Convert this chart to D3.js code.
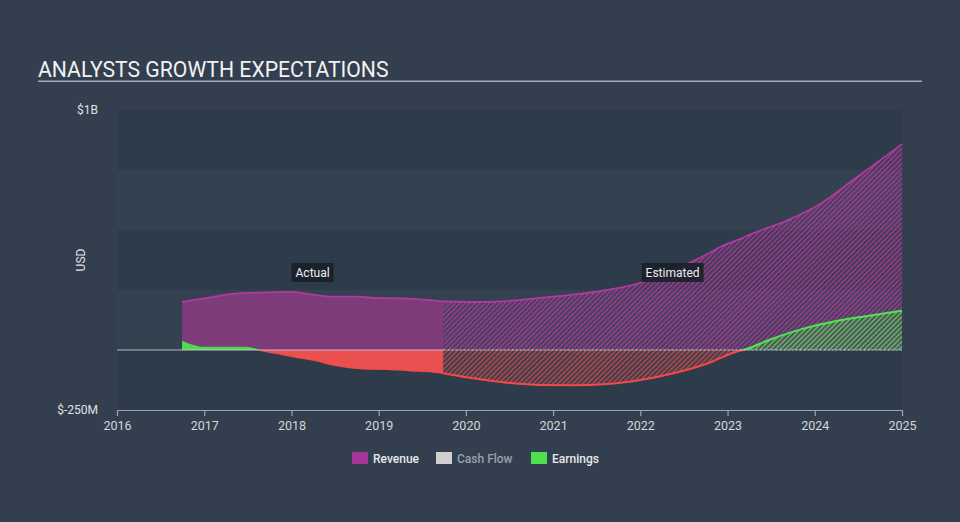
<!DOCTYPE html>
<html>
<head>
<meta charset="utf-8">
<script src="https://cdn.jsdelivr.net/npm/d3@7"></script>
<style>
  html, body { margin: 0; padding: 0; background: #333f4f; }
  svg { display: block; font-family: Roboto, "Open Sans", sans-serif; }
</style>
</head>
<body>
<svg id="chart" width="960" height="522"></svg>
<script>
// ---- data (values in $M, time in decimal years) ----
const revenueYears  = [2016.745, 2017.0, 2017.3, 2017.72, 2017.98, 2018.21, 2018.44, 2018.75, 2018.98, 2019.28, 2019.59, 2019.74,
                       2020.08, 2020.47, 2020.85, 2021.23, 2021.62, 2022.0, 2022.38, 2022.77, 2022.92, 2023.14, 2023.29, 2023.68, 2024.06, 2024.44, 2024.83, 2025.0];
const revenueValues = [200, 215, 233, 240, 242, 233, 222, 222, 217, 215, 208, 202,
                       200, 204, 217, 231, 250, 280, 333, 400, 430, 462, 486, 539, 608, 708, 812, 858];
const earningsYears  = [2016.745, 2016.91, 2016.98, 2017.48, 2017.67, 2017.87, 2018.06, 2018.25, 2018.52, 2018.82, 2019.10, 2019.36, 2019.67, 2019.74,
                        2020.08, 2020.47, 2020.85, 2021.23, 2021.62, 2022.0, 2022.38, 2022.77, 2023.14, 2023.18, 2023.49, 2023.87, 2024.26, 2024.64, 2025.0];
const earningsValues = [39, 18, 14, 14, -3, -17, -30, -42, -65, -78, -80, -86, -93, -97,
                        -118, -136, -146, -147, -142, -125, -97, -56, -3, 0, 44, 89, 122, 144, 164];
const splitYear = 2019.74;             // actual / estimated boundary
const xTicks = [2016, 2017, 2018, 2019, 2020, 2021, 2022, 2023, 2024, 2025];
const yTickValues = [1000, -250];
const yTickLabels = ["$1B", "$-250M"];
const bandEdges = [-250, 0, 250, 500, 750, 1000];
const legendNames = ["Revenue", "Cash Flow", "Earnings"];
const legendColors = ["#a8369a", "#cfcfcf", "#4fe04f"];

// ---- layout ----
const svg = d3.select("#chart");
const M = { left: 117, right: 902, top: 110, bottom: 410 };
const x = d3.scaleLinear().domain([2016, 2025]).range([M.left, M.right]);
const y = d3.scaleLinear().domain([-250, 1000]).range([M.bottom, M.top]);

const C = {
  revFill: "#7d3c79", revLine: "#b03a9e",
  green: "#4fd84f", greenLine: "#4de64d",
  red: "#eb5050", redLine: "#f24a4a"
};

// title
svg.append("text").attr("x", 38).attr("y", 77).attr("fill", "#f2f2f2")
  .attr("font-size", 21.2).text("ANALYSTS GROWTH EXPECTATIONS");
svg.append("rect").attr("x", 38).attr("y", 80.5).attr("width", 884).attr("height", 1.5).attr("fill", "#a3abb4");

// background bands
for (let i = 0; i < bandEdges.length - 1; i++) {
  svg.append("rect")
    .attr("x", M.left).attr("width", M.right - M.left)
    .attr("y", y(bandEdges[i + 1])).attr("height", y(bandEdges[i]) - y(bandEdges[i + 1]))
    .attr("fill", i % 2 === 0 ? "#2e3b4a" : "#344151");
}

// defs: hatch patterns and clips
const defs = svg.append("defs");
function hatch(id, color, bgOpacity, lineOpacity) {
  const p = defs.append("pattern").attr("id", id).attr("patternUnits", "userSpaceOnUse")
    .attr("width", 3.5).attr("height", 3.5).attr("patternTransform", "rotate(45)");
  p.append("rect").attr("width", 3.5).attr("height", 3.5).attr("fill", color).attr("opacity", bgOpacity);
  p.append("line").attr("x1", 0.75).attr("y1", 0).attr("x2", 0.75).attr("y2", 3.5)
    .attr("stroke", color).attr("stroke-width", 1.3).attr("opacity", lineOpacity);
}
hatch("hRev", C.revLine, 0.14, 0.9);
hatch("hGreen", C.green, 0.15, 0.85);
hatch("hRed", C.red, 0.1, 0.75);

function clipRect(id, x0, x1, y0, y1) {
  defs.append("clipPath").attr("id", id).append("rect")
    .attr("x", x0).attr("y", y0).attr("width", x1 - x0).attr("height", y1 - y0);
}
const xs = x(splitYear);
clipRect("actual", 0, xs, 0, 522);
clipRect("est", xs, 960, 0, 522);
clipRect("actPos", 0, xs, 0, y(0));
clipRect("actNeg", 0, xs, y(0), 522);
clipRect("estPos", xs, 960, 0, y(0));
clipRect("estNeg", xs, 960, y(0), 522);

const rev = revenueYears.map((t, i) => [t, revenueValues[i]]);
const earn = earningsYears.map((t, i) => [t, earningsValues[i]]);
const curve = d3.curveMonotoneX;
const area = d3.area().x(d => x(d[0])).y0(y(0)).y1(d => y(d[1])).curve(curve);
const line = d3.line().x(d => x(d[0])).y(d => y(d[1])).curve(curve);

// revenue
svg.append("path").datum(rev).attr("d", area).attr("fill", C.revFill).attr("clip-path", "url(#actual)");
svg.append("path").datum(rev).attr("d", area).attr("fill", "url(#hRev)").attr("clip-path", "url(#est)");
svg.append("path").datum(rev).attr("d", line).attr("fill", "none").attr("stroke", C.revLine).attr("stroke-width", 1.8);

// earnings
svg.append("path").datum(earn).attr("d", area).attr("fill", C.green).attr("clip-path", "url(#actPos)");
svg.append("path").datum(earn).attr("d", area).attr("fill", C.red).attr("clip-path", "url(#actNeg)");
svg.append("path").datum(earn).attr("d", area).attr("fill", "url(#hGreen)").attr("clip-path", "url(#estPos)");
svg.append("path").datum(earn).attr("d", area).attr("fill", "url(#hRed)").attr("clip-path", "url(#estNeg)");
svg.append("path").datum(earn).attr("d", line).attr("fill", "none").attr("stroke", C.greenLine).attr("stroke-width", 2).attr("clip-path", "url(#estPos)");
svg.append("path").datum(earn).attr("d", line).attr("fill", "none").attr("stroke", C.redLine).attr("stroke-width", 2).attr("clip-path", "url(#estNeg)");
svg.append("path").datum(earn).attr("d", line).attr("fill", "none").attr("stroke", C.redLine).attr("stroke-width", 1.5).attr("clip-path", "url(#actNeg)");

// zero line
svg.append("line").attr("x1", M.left).attr("x2", xs).attr("y1", y(0)).attr("y2", y(0))
  .attr("stroke", "#d8d8d8").attr("stroke-width", 1.2).attr("opacity", 0.8);
svg.append("line").attr("x1", xs).attr("x2", M.right).attr("y1", y(0)).attr("y2", y(0))
  .attr("stroke", "#e6e6e6").attr("stroke-width", 1.2).attr("stroke-dasharray", "3,1").attr("opacity", 0.8);

// Actual / Estimated labels
function tag(text, cx) {
  const g = svg.append("g");
  const t = g.append("text").attr("x", cx).attr("y", 276.5).attr("text-anchor", "middle")
    .attr("font-size", 12).attr("fill", "#eeeeee").text(text);
  const bb = t.node().getBBox();
  g.insert("rect", "text").attr("x", bb.x - 4).attr("y", 263).attr("width", bb.width + 8).attr("height", 19)
    .attr("fill", "#1b2129").attr("opacity", 0.92);
}
tag("Actual", (x(revenueYears[0]) + xs) / 2);
tag("Estimated", (xs + M.right) / 2);

// x axis
const xAxis = d3.axisBottom(x).tickValues(xTicks).tickFormat(d3.format("d")).tickSize(6).tickSizeOuter(0);
const gx = svg.append("g").attr("transform", `translate(0,${M.bottom})`).call(xAxis);
gx.select(".domain").attr("stroke", "#9aa5b1").attr("stroke-width", 1.2);
gx.selectAll(".tick line").attr("stroke", "#9aa5b1").attr("stroke-width", 1.2);
gx.selectAll(".tick text").attr("fill", "#d6d6d6").attr("font-size", 12.5).attr("font-family", "Roboto, sans-serif").attr("dy", "0.9em");

// y labels
const yAxis = d3.axisLeft(y).tickValues(yTickValues).tickFormat((d, i) => yTickLabels[i]).tickSize(0);
const gy = svg.append("g").attr("transform", `translate(${M.left - 16},0)`).call(yAxis);
gy.select(".domain").remove();
gy.selectAll(".tick text").attr("fill", "#e0e0e0").attr("font-size", 12).attr("font-family", "Roboto, sans-serif");
svg.append("text").attr("transform", `translate(85,260) rotate(-90)`).attr("text-anchor", "middle")
  .attr("fill", "#e0e0e0").attr("font-size", 12).text("USD");

// legend
const legendX = [352, 436, 531];
legendNames.forEach((n, i) => {
  svg.append("rect").attr("x", legendX[i]).attr("y", 452).attr("width", 16).attr("height", 12).attr("fill", legendColors[i]);
  svg.append("text").attr("x", legendX[i] + 21).attr("y", 462.5).attr("font-size", 12).attr("font-weight", 500)
    .attr("fill", n === "Cash Flow" ? "#9aa1aa" : "#e8e8e8").text(n);
});
</script>
</body>
</html>
